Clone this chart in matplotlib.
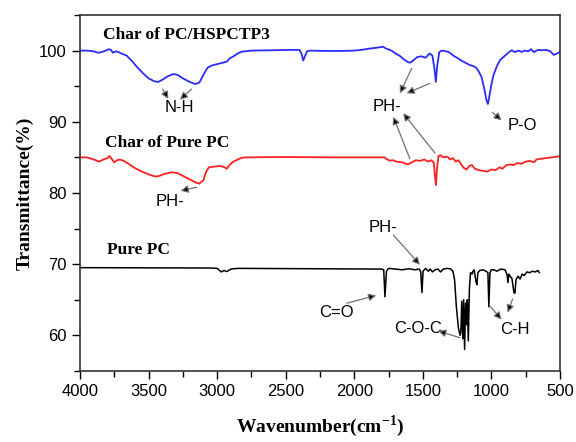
"""FTIR spectra of PC, char of pure PC and char of PC/HSPCTP3."""

import numpy as np
import matplotlib.pyplot as plt
from matplotlib.ticker import MultipleLocator

# --- Char of PC/HSPCTP3 (blue) ---
wnBlue = [4000, 3950, 3900, 3870, 3850, 3820, 3790, 3775, 3760, 3740, 3720, 3700,
          3660, 3620, 3580, 3540, 3500, 3460, 3430, 3400, 3360, 3320, 3290, 3250,
          3200, 3160, 3130, 3100, 3070, 3040, 3000, 2960, 2940, 2925, 2910, 2880,
          2850, 2820, 2750, 2600, 2450, 2400, 2385, 2372, 2360, 2345, 2320, 2200,
          2100, 2000, 1950, 1880, 1820, 1790, 1770, 1740, 1720, 1700, 1670, 1640,
          1610, 1594, 1570, 1540, 1510, 1480, 1450, 1430, 1415, 1405, 1395, 1380,
          1360, 1330, 1310, 1290, 1270, 1250, 1220, 1190, 1160, 1130, 1110, 1090,
          1070, 1050, 1035, 1025, 1015, 1000, 985, 960, 935, 900, 870, 850, 830,
          800, 780, 760, 730, 710, 690, 660, 630, 600, 570, 545, 530, 500]
tBlue = [100.0, 100.0, 99.9, 99.7, 99.75, 99.95, 100.2, 100.1, 99.7, 99.9, 99.8, 99.6,
         99.3, 98.5, 97.6, 96.8, 96.1, 95.7, 95.6, 95.9, 96.4, 96.7, 96.6, 96.1,
         95.6, 95.3, 95.5, 96.6, 97.6, 97.9, 98.1, 98.3, 98.4, 98.5, 98.9, 99.2,
         99.6, 99.85, 100.0, 100.05, 100.1, 100.1, 99.6, 98.6, 99.2, 99.9, 100.0, 99.95,
         99.95, 100.0, 100.1, 100.3, 100.45, 100.55, 100.3, 100.1, 99.9, 99.6, 99.3, 98.8,
         98.4, 98.3, 98.6, 99.1, 99.2, 99.0, 99.6, 99.3, 97.5, 95.6, 97.8, 99.8,
         100.0, 99.9, 99.8, 99.5, 99.2, 99.0, 98.6, 98.3, 98.0, 97.8, 97.6, 97.0,
         96.2, 94.5, 93.0, 92.5, 93.5, 95.2, 96.5, 97.8, 98.7, 99.3, 99.8, 100.05, 99.8,
         100.0, 99.8, 100.0, 99.9, 100.2, 99.8, 100.1, 100.05, 100.1, 99.9, 99.4, 99.5, 99.8]

# --- Char of pure PC (red) ---
wnRed = [4000, 3950, 3900, 3860, 3830, 3800, 3785, 3770, 3750, 3730, 3710, 3680,
         3640, 3600, 3550, 3500, 3450, 3420, 3380, 3330, 3290, 3250, 3200, 3160,
         3130, 3100, 3080, 3060, 3020, 2980, 2945, 2930, 2915, 2890, 2860, 2820,
         2780, 2500, 2200, 1900, 1780, 1760, 1740, 1720, 1690, 1650, 1610, 1580,
         1550, 1520, 1490, 1460, 1440, 1420, 1412, 1404, 1396, 1385, 1370, 1350,
         1320, 1300, 1280, 1260, 1240, 1220, 1200, 1180, 1160, 1140, 1120, 1090,
         1060, 1030, 1000, 970, 940, 920, 890, 860, 840, 810, 780, 750, 720, 690,
         670, 640, 600, 560, 520, 500]
tRed = [85.0, 85.0, 84.7, 84.4, 84.7, 84.9, 85.2, 84.8, 84.3, 84.6, 84.7, 84.5,
        84.0, 83.5, 83.0, 82.6, 82.3, 82.4, 82.7, 82.9, 82.8, 82.4, 81.9, 81.5,
        81.3, 81.8, 83.0, 83.6, 83.7, 83.8, 83.6, 83.4, 83.8, 84.3, 84.6, 84.95,
        85.0, 85.05, 85.0, 85.0, 85.0, 84.7, 84.55, 84.6, 84.4, 84.3, 84.0, 84.3,
        84.6, 84.5, 84.7, 84.4, 84.6, 84.3, 82.5, 81.1, 83.5, 85.2, 85.3, 85.0,
        85.1, 84.7, 84.9, 84.4, 84.6, 84.0, 83.5, 83.3, 83.8, 83.9, 83.4, 83.2,
        83.1, 83.0, 83.3, 83.2, 83.6, 83.4, 83.9, 84.0, 83.9, 84.2, 84.1, 84.4, 84.5, 84.3,
        84.7, 84.8, 84.9, 85.0, 85.1, 85.2]

# --- Pure PC (black) ---
wnBlack = [4000, 3050, 3000, 2970, 2950, 2930, 2900, 2850, 1800, 1785, 1776, 1765,
           1750, 1700, 1650, 1600, 1560, 1525, 1515, 1506, 1498, 1480, 1460, 1445,
           1430, 1410, 1390, 1370, 1350, 1320, 1295, 1280, 1268, 1255, 1240, 1228,
           1222, 1216, 1208, 1202, 1195, 1188, 1180, 1175, 1168, 1160, 1152, 1140,
           1134, 1125, 1112, 1105, 1098, 1085, 1060, 1040, 1025, 1018, 1010, 1000,
           980, 960, 930, 900, 885, 879, 872, 860, 850, 835, 828, 820, 805, 790,
           775, 760, 740, 720, 700, 680, 660, 650]
tBlack = [69.5, 69.45, 69.4, 68.9, 69.1, 68.95, 69.3, 69.4, 69.3, 69.2, 65.4, 69.0,
          69.4, 69.3, 69.2, 69.35, 69.2, 69.3, 68.9, 66.0, 69.0, 69.4, 69.0, 69.3,
          68.9, 69.2, 69.3, 68.9, 69.3, 69.4, 69.3, 69.0, 67.8, 64.0, 61.0, 60.0,
          60.5, 64.8, 59.5, 65.0, 58.0, 64.5, 61.5, 65.0, 59.2, 66.5, 68.8, 68.6,
          69.0, 69.2, 67.5, 67.1, 68.8, 69.1, 69.2, 69.0, 68.8, 64.0, 68.8, 69.2,
          69.2, 69.0, 69.3, 69.2, 68.5, 67.4, 68.6, 68.2, 68.0, 66.0, 65.9, 67.8, 68.3, 67.9,
          68.6, 68.4, 68.9, 68.8, 69.0, 68.9, 69.1, 68.8]

plt.rcParams['mathtext.fontset'] = 'custom'
plt.rcParams['mathtext.bf'] = 'Liberation Serif:bold'

fig = plt.figure(figsize=(5.76, 4.42), dpi=100)
ax = fig.add_axes([0.139, 0.161, 0.833, 0.805])

ax.plot(wnBlue, tBlue, color='#2b2bff', lw=1.3)
ax.plot(wnRed, tRed, color='#ff2020', lw=1.3)
ax.plot(wnBlack, tBlack, color='black', lw=1.1)

ax.set_xlim(4000, 500)
ax.set_ylim(55, 105)
ax.xaxis.set_major_locator(MultipleLocator(500))
ax.xaxis.set_minor_locator(MultipleLocator(250))
ax.yaxis.set_major_locator(MultipleLocator(10))
ax.yaxis.set_minor_locator(MultipleLocator(5))
ax.set_yticks([60, 70, 80, 90, 100])
ax.tick_params(which='both', direction='out', width=1.0, top=False, right=False)
ax.tick_params(which='major', length=6, labelsize=12)
ax.tick_params(which='minor', length=4)
for lab in ax.get_xticklabels() + ax.get_yticklabels():
    lab.set_family('Liberation Sans')
for sp in ax.spines.values():
    sp.set_linewidth(1.2)
    sp.set_color('#333333')

serif = 'Liberation Serif'
ax.set_xlabel('Wavenumber(cm$^{\\mathbf{-1}}$)', family=serif, fontweight='bold',
              fontsize=14, labelpad=10)
ax.set_ylabel('Transmittance(%)', family=serif, fontweight='bold', fontsize=14)

# curve labels
ax.text(3832, 102.2, 'Char of PC/HSPCTP3', family=serif, fontweight='bold', fontsize=12.5, va='center')
ax.text(3818, 87.0, 'Char of Pure PC', family=serif, fontweight='bold', fontsize=12.5, va='center')
ax.text(3803, 72.0, 'Pure PC', family=serif, fontweight='bold', fontsize=12.5, va='center')

# peak labels: (text, x, y, [(tail, head), ...])
arw = dict(arrowstyle='-|>', ec='#707070', fc='black', lw=0.9, mutation_scale=11,
           shrinkA=0, shrinkB=0)
peaks = [
    ('N-H', 3278, 92.0, [((3397, 94.6), (3356, 93.2)), ((3186, 94.6), (3271, 93.1))]),
    ('PH-', 1758, 92.1, [((1581, 97.5), (1667, 94.0)), ((1448, 95.4), (1618, 94.0)),
                         ((1594, 84.8), (1715, 90.7)), ((1411, 85.6), (1643, 91.2))]),
    ('P-O', 773, 89.45, [((991, 91.3), (925, 90.2))]),
    ('PH-', 3344, 78.8, [((3149, 80.8), (3266, 80.3))]),
    ('PH-', 1794, 75.1, [((1715, 74.1), (1521, 69.9))]),
    ('C=O', 2128, 63.2, [((2055, 64.5), (1840, 65.6))]),
    ('C-O-C', 1535, 61.0, [((1229, 59.65), (1387, 60.6))]),
    ('C-H', 830, 60.8, [((1010, 64.1), (925, 62.2)), ((845, 65.1), (881, 63.2))]),
]
for txt, x, y, arrows in peaks:
    ax.text(x, y, txt, family='Liberation Sans', fontsize=12, ha='center', va='center')
    for tail, head in arrows:
        ax.annotate('', xy=head, xytext=tail, arrowprops=arw)

fig.savefig('out.png', dpi=100)
